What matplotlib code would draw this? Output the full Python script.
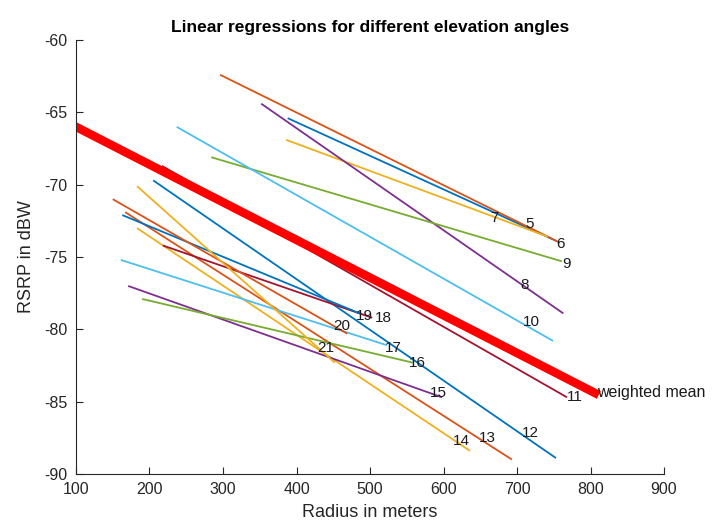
import matplotlib
matplotlib.use("Agg")
import matplotlib.pyplot as plt

plt.rcParams['font.family'] = ['Liberation Sans', 'DejaVu Sans']
plt.rcParams['axes.unicode_minus'] = False

# Elevation angle of each regression line
angles = [5, 6, 7, 8, 9, 10, 11, 12, 13, 14, 15, 16, 17, 18, 19, 20, 21]

# Radius range (m) covered by each regression line
r_start = [388, 296, 386, 352, 284, 237, 217, 205, 167, 183, 171, 190, 161, 218, 163, 150, 183]
r_end   = [754, 758, 742, 763, 761, 749, 768, 753, 693, 636, 598, 558, 523, 503, 486, 469, 452]

# RSRP (dBW) at the start and end of each line
p_start = [-65.4, -62.4, -66.9, -64.4, -68.1, -66.0, -68.7, -69.7, -71.9, -73.0, -77.0, -77.9, -75.2, -74.2, -72.1, -71.0, -70.1]
p_end   = [-73.9, -74.0, -73.6, -78.9, -75.3, -80.8, -84.7, -88.9, -89.0, -88.4, -84.7, -82.3, -81.1, -79.2, -78.9, -80.3, -82.3]

# Where each angle's label sits
label_r = [711, 754, 663, 704, 761, 708, 768, 707, 648, 613, 582, 553, 520, 506, 481, 450, 428]
label_p = [-72.7, -74.1, -72.3, -76.9, -75.5, -79.5, -84.7, -87.2, -87.5, -87.7, -84.4, -82.3, -81.3, -79.2, -79.1, -79.8, -81.3]

# Weighted mean of all regressions
mean_r = [100, 806]
mean_p = [-66.0, -84.4]

colors = ['#0072BD', '#D95319', '#EDB120', '#7E2F8E', '#77AC30', '#4DBEEE', '#A2142F']

fig = plt.figure(figsize=(7.21, 5.27), dpi=100)
ax = fig.add_axes([0.1054, 0.1006, 0.8156, 0.8234])

for i, a in enumerate(angles):
    c = colors[i % len(colors)]
    ax.plot([r_start[i], r_end[i]], [p_start[i], p_end[i]], color=c, lw=1.3,
            solid_capstyle='butt')
    ax.text(label_r[i], label_p[i], str(a), ha='left', va='center',
            fontsize=11, color='#1a1a1a')

ax.plot(mean_r, mean_p, color='#FF0000', lw=6.2)
ax.text(mean_r[1] + 3, mean_p[1], 'weighted mean', ha='left', va='center',
        fontsize=11.5, color='#1a1a1a')

ax.set_xlim(100, 900)
ax.set_ylim(-90, -60)
ax.set_xticks(range(100, 901, 100))
ax.set_yticks(range(-90, -59, 5))
ax.tick_params(direction='in', length=5, width=0.8, colors='#262626',
               labelsize=11.5, labelcolor='#262626', pad=6)
for side in ('top', 'right'):
    ax.spines[side].set_visible(False)
for side in ('left', 'bottom'):
    ax.spines[side].set_color('#262626')
    ax.spines[side].set_linewidth(0.8)

ax.set_xlabel('Radius in meters', fontsize=13, color='#262626', labelpad=5)
ax.set_ylabel('RSRP in dBW', fontsize=13, color='#262626', labelpad=7)
ax.set_title('Linear regressions for different elevation angles',
             fontsize=12.5, fontweight='bold', color='black', pad=6)

fig.savefig('out.png', dpi=100)
